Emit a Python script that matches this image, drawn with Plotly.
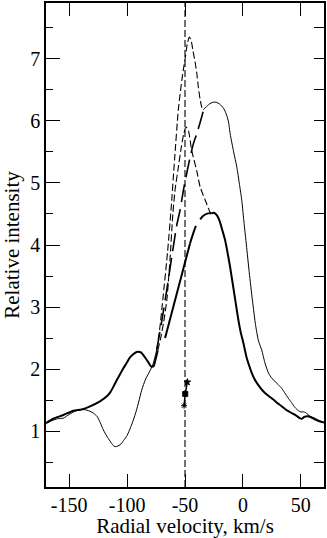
import plotly.graph_objects as go

# ---- data ----
thin_left_x = [-170, -165, -160, -155, -150, -146, -142, -139, -135, -132, -129, -126, -123, -120.5,
               -117.5, -114.7, -112, -110.4, -108, -106, -103, -100, -97, -94.6, -92, -90, -87.4,
               -84, -80, -77.3, -74.4]
thin_left_y = [1.13, 1.17, 1.20, 1.21, 1.27, 1.31, 1.34, 1.35, 1.34, 1.32, 1.29, 1.24, 1.13, 1.02,
               0.92, 0.84, 0.77, 0.75, 0.76, 0.78, 0.85, 0.93, 1.06, 1.18, 1.33, 1.47, 1.66,
               1.84, 1.98, 2.10, 2.31]

thin_gap_x = [-74.4, -70, -65.8, -61.5, -57.1, -54.3, -51.4, -49.1, -46, -42.8, -39.9, -37, -34.2]
thin_gap_y = [2.31, 2.78, 3.27, 3.80, 4.32, 4.56, 4.88, 5.10, 5.38, 5.63, 5.79, 5.97, 6.16]

thin_right_x = [-34.2, -32, -29, -26, -23, -20, -17, -15, -12.6, -11, -8, -5.3, -3, -1, 1, 3, 5.5,
                8.2, 11, 13.5, 16.2, 19, 22, 25, 27.8, 30.5, 33.5, 36, 39.2, 42, 45, 47.9, 50, 52.2,
                54, 56, 58, 62, 66, 70]
thin_right_y = [6.18, 6.22, 6.27, 6.30, 6.30, 6.27, 6.21, 6.14, 6.00, 5.79, 5.50, 5.26, 4.98, 4.72,
                4.35, 4.00, 3.55, 3.11, 2.70, 2.45, 2.31, 2.10, 1.94, 1.85, 1.80, 1.75, 1.69, 1.62,
                1.53, 1.46, 1.38, 1.33, 1.31, 1.31, 1.30, 1.27, 1.24, 1.21, 1.17, 1.14]

thick_left_x = [-170, -163.7, -155, -146.4, -139.2, -132, -123.4, -117, -114.7, -112, -109, -106,
                -103, -100, -97.5, -94, -91, -88, -85, -82, -79, -77, -75.5, -73.5]
thick_left_y = [1.13, 1.20, 1.26, 1.33, 1.35, 1.40, 1.48, 1.57, 1.62, 1.71, 1.82, 1.92,
                2.02, 2.11, 2.19, 2.25, 2.28, 2.27, 2.20, 2.12, 2.04, 2.05, 2.15, 2.30]

thick_mid_x = [-67.2, -58.6, -45.6]
thick_mid_y = [2.50, 3.11, 4.03]

thick_gap_x = [-45.6, -40, -34.2, -30, -27]
thick_gap_y = [4.03, 4.33, 4.47, 4.51, 4.51]

thick_right_x = [-27, -25, -22.5, -20, -17.5, -15.4, -13, -11.1, -9, -6.5, -4, -2, 0.4, 3, 5.5,
                 7.6, 10, 13, 17.7, 22, 26.3, 30, 34.9, 38.5, 42.2, 46, 49, 51, 53, 56, 58, 62, 66, 70]
thick_right_y = [4.51, 4.52, 4.48, 4.38, 4.22, 4.08, 3.85, 3.65, 3.40, 3.10, 2.80, 2.60, 2.42, 2.20,
                 2.05, 1.94, 1.84, 1.75, 1.64, 1.57, 1.51, 1.45, 1.38, 1.33, 1.29, 1.25, 1.21, 1.20,
                 1.23, 1.24, 1.23, 1.19, 1.16, 1.14]

recon_a_x = [-74.4, -72, -69.2, -65, -62, -59, -55.8, -52.8, -51.4, -49.5, -48, -46.2, -44.5,
             -43.3, -41.3, -39.9, -38.5, -37, -35.5, -34.2]
recon_a_y = [2.31, 2.62, 3.11, 3.90, 4.58, 5.38, 6.17, 6.65, 6.83, 7.05, 7.25, 7.35, 7.28,
             7.15, 6.95, 6.78, 6.55, 6.35, 6.22, 6.18]

recon_b_x = [-73.5, -71, -68.5, -65.7, -63, -60.5, -58.5, -56, -53, -51, -49.1, -47, -44.2,
             -39.9, -37, -34.2, -31.2, -28.4, -27]
recon_b_y = [2.30, 2.50, 2.75, 3.11, 3.75, 4.50, 4.90, 5.22, 5.60, 5.80, 5.90, 5.84, 5.52,
             5.20, 4.94, 4.80, 4.66, 4.53, 4.51]

vline_x = [-50, -50]
vline_y = [0.1, 7.9]

marks_x = [-50.8, -49.8, -48.0]
marks_y = [1.41, 1.60, 1.79]
marks_sym = ["asterisk-open", "square", "star"]

x_tickvals = [-150, -100, -50, 0, 50]
x_ticktext = ["-150", "-100", "-50", "0", "50"]
y_tickvals = [1, 2, 3, 4, 5, 6, 7]
y_ticktext = ["1", "2", "3", "4", "5", "6", "7"]

X_RANGE = [-170, 70]
Y_RANGE = [0.1, 7.9]

FONT = "Times New Roman, Liberation Serif, DejaVu Serif, serif"

fig = go.Figure()


def add_line(x, y, width, dash="solid", shape="spline", axis="y"):
    fig.add_trace(go.Scatter(
        x=x, y=y, mode="lines", yaxis=axis,
        line=dict(color="black", width=width, dash=dash, shape=shape, smoothing=0.6),
        showlegend=False, hoverinfo="skip"))


# vertical reference line
add_line(vline_x, vline_y, 1.1, dash="7px,3px", shape="linear", axis="y2")
# reconstructed profiles (short dash)
add_line(recon_a_x, recon_a_y, 1.1, dash="7px,3px")
add_line(recon_b_x, recon_b_y, 1.1, dash="7px,3px")
# thin spectrum
add_line(thin_left_x, thin_left_y, 1.0)
add_line(thin_gap_x, thin_gap_y, 1.6, dash="18px,7px")
add_line(thin_right_x, thin_right_y, 1.0)
# thick spectrum
add_line(thick_left_x, thick_left_y, 2.0)
add_line(thick_mid_x, thick_mid_y, 2.0, shape="linear")
add_line(thick_gap_x, thick_gap_y, 2.0, dash="18px,8px")
add_line(thick_right_x, thick_right_y, 2.0)

# small marked points
fig.add_trace(go.Scatter(
    x=marks_x, y=marks_y, mode="lines+markers",
    line=dict(color="black", width=1.5),
    marker=dict(symbol=marks_sym, size=5, color="black",
                line=dict(color="black", width=1.0)),
    showlegend=False, hoverinfo="skip"))

fig.update_layout(
    width=327, height=538,
    margin=dict(l=46, r=3, t=3, b=51, autoexpand=False),
    paper_bgcolor="white", plot_bgcolor="white",
    font=dict(family=FONT, size=20, color="black"),
    xaxis=dict(
        range=X_RANGE, tickvals=x_tickvals, ticktext=x_ticktext,
        ticks="inside", ticklen=13, tickwidth=1.3, tickcolor="black",
        showline=True, linewidth=1.5, linecolor="black", mirror="ticks",
        showgrid=False, zeroline=False, automargin=False,
        ticklabelstandoff=-1,
        title=dict(text="Radial velocity, km/s", font=dict(family=FONT, size=21), standoff=3),
        tickfont=dict(family=FONT, size=20),
    ),
    yaxis=dict(
        range=Y_RANGE, tickvals=y_tickvals, ticktext=y_ticktext,
        ticks="inside", ticklen=14, tickwidth=1.3, tickcolor="black",
        minor=dict(dtick=0.5, tick0=0, ticks="inside", ticklen=7, tickwidth=1.3, tickcolor="black"),
        showline=True, linewidth=1.5, linecolor="black", mirror=True,
        showgrid=False, zeroline=False, automargin=False,
        title=dict(text="Relative intensity", font=dict(family=FONT, size=21), standoff=6),
        tickfont=dict(family=FONT, size=20),
    ),
    yaxis2=dict(
        range=Y_RANGE, overlaying="y", side="right", anchor="x",
        dtick=0.5, tick0=0, ticks="inside", ticklen=10, tickwidth=1.3, tickcolor="black",
        showticklabels=False, showgrid=False, zeroline=False, showline=False,
    ),
)

fig.write_html("out.html", config={"displayModeBar": False},
               post_script="document.body.style.margin='0';document.body.style.overflow='hidden';")
